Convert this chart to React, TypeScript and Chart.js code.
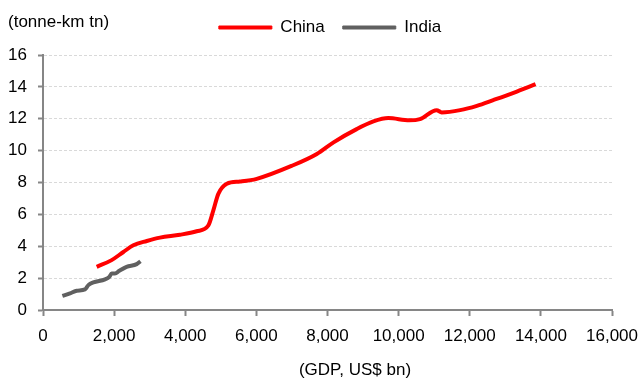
import React, { useEffect, useRef } from "react";
import { Chart, registerables } from "chart.js";

Chart.register(...registerables);

const chinaGdp = [1510, 1930, 2260, 2540, 2920, 3290, 3850, 4320, 4650, 4790, 4930, 5170, 5540, 6010, 7000, 7700, 8170, 8820, 9290, 9710, 10300, 10600, 11070, 11210, 11730, 12200, 12660, 13230, 13850];
const chinaFreight = [2.71, 3.13, 3.64, 4.06, 4.33, 4.54, 4.72, 4.94, 5.31, 6.25, 7.29, 7.92, 8.06, 8.23, 9.05, 9.79, 10.52, 11.35, 11.83, 12.04, 11.9, 11.98, 12.54, 12.4, 12.54, 12.81, 13.17, 13.63, 14.17];
const indiaGdp = [545, 760, 950, 1180, 1275, 1415, 1745, 1865, 1930, 2025, 2145, 2350, 2635, 2740];
const indiaFreight = [0.88, 1.04, 1.21, 1.29, 1.56, 1.73, 1.92, 2.08, 2.29, 2.29, 2.46, 2.71, 2.88, 3.06];

const seriesNames = ["China", "India"];
const yAxisTitle = "(tonne-km tn)";
const xAxisTitle = "(GDP, US$ bn)";
const xTickMin = 0;
const xTickMax = 16000;
const xTickStep = 2000;
const yTickMin = 0;
const yTickMax = 16;
const yTickStep = 2;

const FONT = "'Liberation Sans', Arial, sans-serif";

export default function App() {
  const ref = useRef<HTMLCanvasElement | null>(null);

  useEffect(() => {
    if (!ref.current) return;
    const toPts = (xs: number[], ys: number[]) => xs.map((x, i) => ({ x, y: ys[i] }));

    const titlePlugin = {
      id: "titles",
      afterLayout(chart: any) {
        if (chart.legend) {
          chart.legend.left += 48;
          chart.legend.top -= 9;
        }
      },
      afterDraw(chart: any) {
        const ctx = chart.ctx;
        ctx.save();
        ctx.fillStyle = "#000";
        ctx.font = `17px ${FONT}`;
        ctx.textBaseline = "middle";
        ctx.textAlign = "left";
        ctx.fillText(yAxisTitle, 8, 22);
        ctx.textAlign = "center";
        ctx.fillText(xAxisTitle, 355, 370);
        ctx.restore();
      },
    };

    const chart = new Chart(ref.current, {
      type: "line",
      data: {
        datasets: [
          {
            label: seriesNames[0],
            data: toPts(chinaGdp, chinaFreight),
            borderColor: "#ff0000",
            backgroundColor: "#ff0000",
            borderWidth: 4,
            pointRadius: 0,
            cubicInterpolationMode: "monotone",
            fill: false,
          },
          {
            label: seriesNames[1],
            data: toPts(indiaGdp, indiaFreight),
            borderColor: "#606060",
            backgroundColor: "#606060",
            borderWidth: 4,
            pointRadius: 0,
            cubicInterpolationMode: "monotone",
            fill: false,
          },
        ],
      },
      options: {
        animation: false,
        responsive: false,
        maintainAspectRatio: false,
        layout: { padding: { top: 10, right: 26, bottom: 0, left: 0 } },
        plugins: {
          legend: {
            position: "top",
            align: "center",
            labels: {
              color: "#000",
              font: { family: FONT, size: 17 },
              boxWidth: 53,
              boxHeight: 3,
              padding: 18,
              generateLabels: (c: any) =>
                Chart.defaults.plugins.legend.labels.generateLabels(c).map((l: any) => ({
                  ...l,
                  lineWidth: 1,
                  fillStyle: l.strokeStyle,
                })),
            },
          },
          tooltip: { enabled: false },
          title: { display: false },
        },
        scales: {
          x: {
            type: "linear",
            min: xTickMin,
            max: xTickMax,
            afterFit: (s: any) => {
              s.height = 72;
              s.paddingRight = 0;
              s.paddingLeft = 0;
            },
            ticks: {
              stepSize: xTickStep,
              color: "#000",
              font: { family: FONT, size: 17 },
              padding: 10,
              maxRotation: 0,
              callback: (v: any) => Number(v).toLocaleString("en-US"),
            },
            grid: {
              drawOnChartArea: false,
              drawTicks: true,
              tickLength: 6,
              tickColor: "#868686",
              tickWidth: 2,
            },
            border: { display: true, color: "#868686", width: 2 },
          },
          y: {
            type: "linear",
            min: yTickMin,
            max: yTickMax,
            afterFit: (s: any) => {
              s.width = 43;
            },
            ticks: {
              stepSize: yTickStep,
              color: "#000",
              font: { family: FONT, size: 17 },
              padding: 11,
            },
            grid: {
              color: "#d9d9d9",
              lineWidth: 1,
              drawTicks: true,
              tickLength: 5,
              tickColor: "#868686",
              tickWidth: 2,
              tickBorderDash: [],
            },
            border: { display: true, color: "#868686", width: 2, dash: [3, 2] },
          },
        },
      },
      plugins: [titlePlugin],
    });
    return () => chart.destroy();
  }, []);

  return (
    <div style={{ position: "fixed", left: 0, top: 0, width: 638, height: 382, background: "#fff" }}>
      <canvas ref={ref} width={638} height={382} style={{ display: "block", width: 638, height: 382 }} />
    </div>
  );
}
